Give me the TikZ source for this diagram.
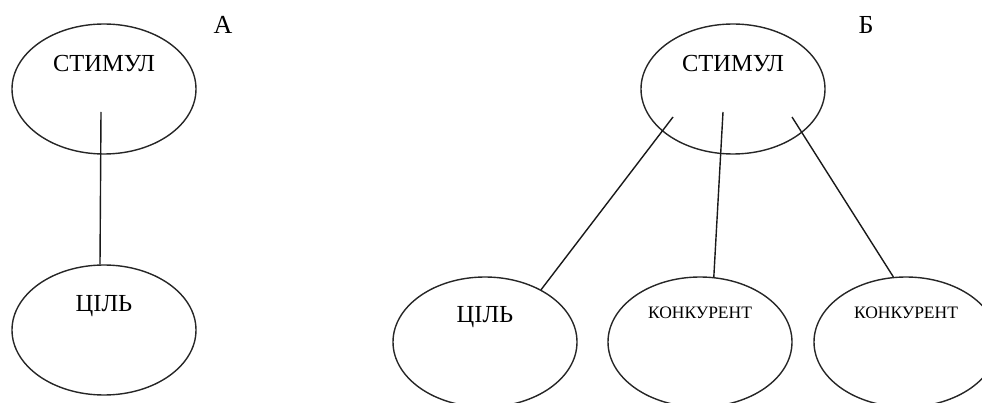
\documentclass[tikz,border=0pt]{standalone}
\usepackage{fontspec}
\setmainfont{Liberation Serif}
\usetikzlibrary{shapes.geometric}
\tikzset{
  oval/.style={ellipse, draw=black!85, line width=1.4pt, minimum width=184pt, minimum height=130pt, inner sep=0pt},
  conn/.style={draw=black!90, line width=1.4pt},
  big/.style={font=\fontsize{24.5}{25}\selectfont},
  small/.style={font=\fontsize{17.5}{18}\selectfont},
  tag/.style={font=\fontsize{26}{26}\selectfont}
}
\begin{document}
\begin{tikzpicture}[x=1pt,y=-1pt]
\useasboundingbox (0,0) rectangle (982,403);
% panel A
\node[oval, label={[big, yshift=25pt]center:СТИМУЛ}] (stimA) at (104,89) {};
\node[oval, label={[big, yshift=24pt]center:ЦІЛЬ}] (goalA) at (104,330) {};
\node[tag] (tagA) at (223,25) {А};
\coordinate (sA) at ([xshift=-3pt,yshift=-23pt]stimA.center);
\draw[conn] (sA) -- ([xshift=-4pt]goalA.north);
% panel B
\node[oval, label={[big, yshift=25pt]center:СТИМУЛ}] (stimB) at (733,89) {};
\node[oval, label={[big, yshift=25pt]center:ЦІЛЬ}] (goalB) at (485,342) {};
\node[oval, label={[small, yshift=29pt]center:КОНКУРЕНТ}] (rivB1) at (700,342) {};
\node[oval, label={[small, yshift=29pt]center:КОНКУРЕНТ}] (rivB2) at (906,342) {};
\node[tag] (tagB) at (866,25) {Б};
\coordinate (sB1) at ([xshift=-60pt,yshift=-28pt]stimB.center);
\coordinate (sB2) at ([xshift=-10pt,yshift=-23pt]stimB.center);
\coordinate (sB3) at ([xshift=59pt,yshift=-28pt]stimB.center);
\draw[conn] (sB1) -- (goalB.43);
\draw[conn] (sB2) -- (rivB1.78);
\draw[conn] (sB3) -- (rivB2.101);
\end{tikzpicture}
\end{document}
